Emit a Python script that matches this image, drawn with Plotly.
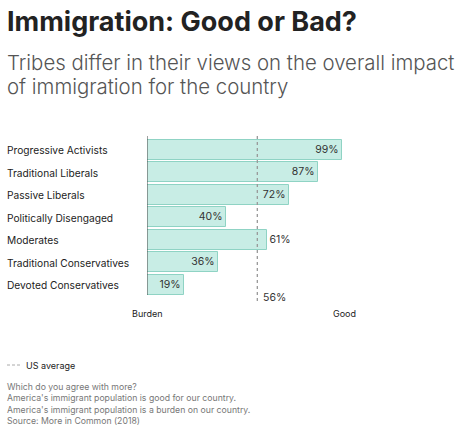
import plotly.graph_objects as go

categories = ["Progressive Activists", "Traditional Liberals", "Passive Liberals",
              "Politically Disengaged", "Moderates", "Traditional Conservatives",
              "Devoted Conservatives"]
values = [99, 87, 72, 40, 61, 36, 19]
label_pos = ["inside", "inside", "inside", "inside", "outside", "inside", "inside"]
us_average = 56
axis_labels = ["Burden", "Good"]
footnotes = ["Which do you agree with more?",
             "America's immigrant population is good for our country.",
             "America's immigrant population is a burden on our country.",
             "Source: More in Common (2018)"]

FONT = "Inter"
WIDTH, HEIGHT = 466, 430
# pixel geometry of the plot area
SL, SW = 147, 197
ST, SH = 136, 159
SBOT = ST + SH

def px(x):
    return (x - SL) / SW

def py(y):
    return (SBOT - y) / SH

n = len(categories)
ypos = list(range(n - 1, -1, -1))

fig = go.Figure()
fig.add_trace(go.Bar(
    x=values, y=ypos, orientation="h", width=0.89,
    marker=dict(color="#c8ede5", line=dict(color="#8fd3c4", width=1)),
    text=[f"{v}%" for v in values], textposition=label_pos,
    insidetextanchor="end",
    textfont=dict(family=FONT, size=10.5, color="#333333"),
    cliponaxis=False, hoverinfo="skip",
))

shapes = [
    dict(type="line", xref="x", yref="paper", x0=us_average, x1=us_average,
         y0=py(301), y1=1, line=dict(color="#999999", width=1.3, dash="3px,3px")),
    dict(type="line", xref="x", yref="paper", x0=0, x1=0, y0=0, y1=1,
         line=dict(color="#444444", width=1)),
    dict(type="line", xref="paper", yref="paper", x0=px(7), x1=px(22),
         y0=py(365), y1=py(365), line=dict(color="#aaaaaa", width=1, dash="3px,2px")),
]

ann = []
def A(text, x, y, size, color, xanchor="left", weight=None, xref="paper"):
    f = dict(family=FONT, size=size, color=color)
    if weight:
        f["weight"] = weight
    ann.append(dict(text=text, x=x if xref == "x" else px(x), y=py(y), xref=xref,
                    yref="paper", xanchor=xanchor, yanchor="middle", showarrow=False,
                    font=f))

A("Immigration: Good or Bad?", 5, 22, 27, "#222222", weight=700)
A("Tribes differ in their views on the overall impact", 5, 62, 20.4, "#555555", weight=300)
A("of immigration for the country", 5, 86, 20.4, "#555555", weight=300)

for c, yv in zip(categories, [150 + 22.5 * i for i in range(n)]):
    A(c, 5, yv, 10.2, "#222222")

A(f"{us_average}%", us_average + 2, 297, 10.5, "#333333", xref="x")
A(axis_labels[0], 0, 313, 9, "#222222", xanchor="center", xref="x")
A(axis_labels[1], 100, 313, 9, "#222222", xanchor="center", xref="x")
A("US average", 24, 365, 9, "#222222")
for i, t in enumerate(footnotes):
    A(t, 5, 387 + 11.3 * i, 8.7, "#777777")

fig.update_layout(
    width=WIDTH, height=HEIGHT,
    margin=dict(l=SL, r=WIDTH - SL - SW, t=ST, b=HEIGHT - SBOT, pad=0),
    paper_bgcolor="white", plot_bgcolor="white",
    showlegend=False, bargap=0,
    xaxis=dict(range=[0, 100], visible=False),
    yaxis=dict(range=[-0.45, n - 1 + 0.62], visible=False),
    shapes=shapes, annotations=ann,
    font=dict(family=FONT),
)
fig.write_html("out.html", config={"displayModeBar": False},
               post_script="document.body.style.margin='0';document.body.style.overflow='hidden';")
